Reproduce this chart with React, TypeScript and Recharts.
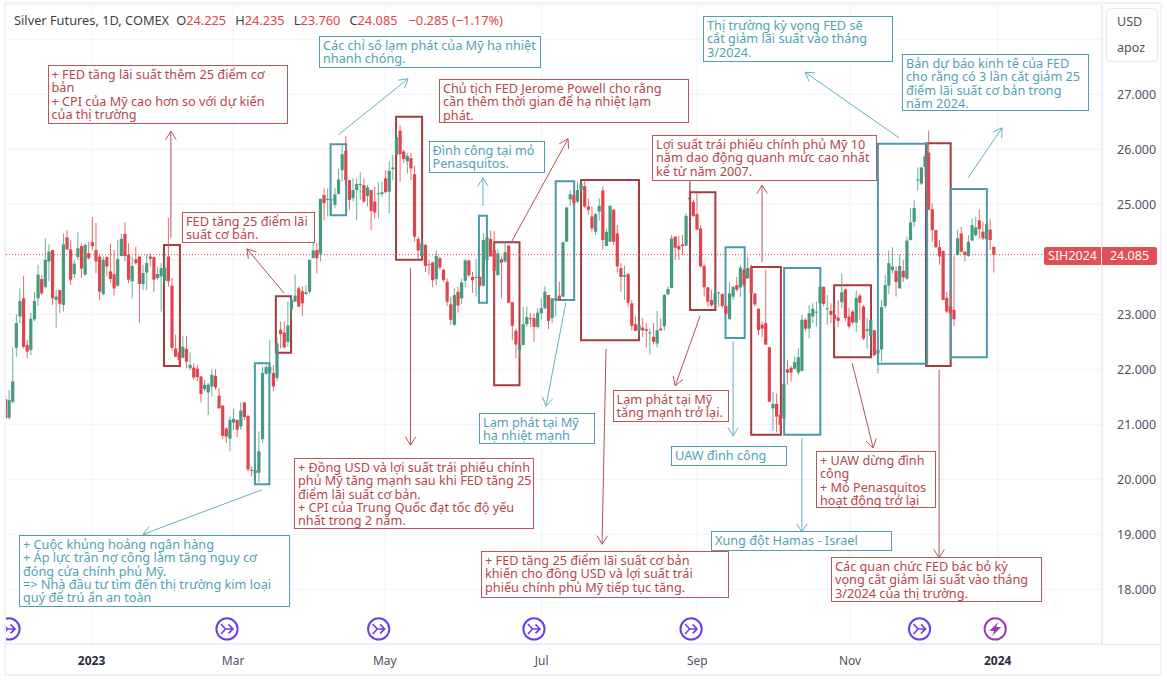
import React from 'react';
import { ComposedChart, Bar, XAxis, YAxis, CartesianGrid, ReferenceArea, ReferenceLine, ReferenceDot } from 'recharts';

// open, high, low, close per session
const ohlcEarly2023 = [
[21.46,21.46,20.91,21.11],[21.12,21.62,21.08,21.44],[21.41,22.40,21.38,21.78],[22.39,23.00,22.23,22.84],[22.96,23.47,22.84,23.24],[23.29,23.70,22.38,22.41],[22.44,22.53,22.20,22.32],[22.35,23.02,22.26,22.92],[22.91,23.41,22.87,23.24],[23.29,23.90,23.15,23.72],
[23.64,23.72,23.35,23.38],[23.50,24.38,23.47,23.99],[23.96,24.27,23.60,24.14],[24.17,24.17,23.17,23.29],[23.26,23.44,22.75,23.32],[23.44,23.44,23.02,23.19],[23.17,24.47,23.05,24.27],[24.40,24.53,24.17,24.18],[24.18,24.35,23.53,23.63],[23.73,23.99,23.66,23.92],
[24.04,24.49,23.99,24.20],[24.24,24.29,23.66,23.83],[23.72,24.29,23.70,24.26],[24.11,24.32,23.99,24.02],[24.31,24.77,24.17,24.24],[24.17,24.66,23.75,23.96],[24.05,24.08,23.26,23.41],[23.37,24.05,23.34,23.99],[24.04,24.05,23.69,23.87],[23.78,24.29,23.57,23.64],
[23.73,24.17,23.34,23.47],[23.52,24.35,23.50,24.00],[24.06,24.46,24.05,24.37],[24.46,24.67,23.96,24.06],[24.08,24.29,23.57,23.63],[23.60,24.05,23.29,23.88],[24.00,24.23,23.90,23.93],[24.05,24.05,22.85,23.55],[23.55,23.90,23.44,23.75],[23.76,24.08,23.44,23.93],
[24.05,24.11,23.87,24.01],[24.04,24.05,23.40,23.63],[23.66,23.87,23.63,23.73],[23.69,23.93,23.05,23.84],[23.61,24.08,23.50,23.85],[24.05,24.75,23.50,23.60],[23.52,23.66,22.34,22.39],[22.38,22.63,22.23,22.23],[22.31,22.41,22.06,22.17],[22.21,22.60,22.20,22.41],
[22.37,22.61,22.02,22.14],[22.02,22.31,21.99,22.08],[22.03,22.11,21.81,21.85],[22.01,22.08,21.78,21.86],[21.87,21.87,21.40,21.55],[21.64,21.81,21.60,21.72],[21.58,21.75,21.17,21.72],[21.69,22.00,21.51,21.90],[21.88,22.00,21.63,21.67],[21.52,21.66,21.29,21.29],
[21.34,21.35,20.73,20.79],[20.92,20.95,20.66,20.78],[20.74,21.14,20.51,21.08],[21.03,21.29,20.90,21.10],[21.08,21.08,20.77,20.90],[20.96,21.40,20.90,21.25],[21.40,21.40,21.08,21.13],[21.15,21.17,20.14,20.18],[20.17,20.23,20.05,20.16],[20.11,20.29,19.96,20.17],
];
const ohlcSpring2023 = [
[20.12,20.87,19.94,20.51],[20.73,22.05,20.66,21.93],[21.92,22.08,21.90,22.04],[21.93,22.53,21.90,22.05],[21.93,22.08,21.60,21.69],[21.84,22.57,21.78,22.47],[22.72,22.87,22.38,22.64],[22.67,22.87,22.38,22.40],[22.50,23.23,22.41,22.80],[23.09,23.35,22.90,23.26],
[23.23,23.72,23.23,23.34],[23.47,23.50,23.14,23.14],[23.42,23.51,22.96,23.20],[23.37,23.53,23.35,23.40],[23.41,23.99,23.38,23.99],[24.02,24.32,24.02,24.16],[24.17,24.29,23.74,24.02],[24.10,25.10,23.96,25.10],[25.17,25.29,24.71,25.02],[25.08,25.29,24.78,25.10],
[25.08,25.10,24.81,25.09],[24.99,25.29,24.93,25.18],[25.19,25.65,25.18,25.45],[25.62,26.07,25.41,25.91],[25.97,26.24,25.32,25.44],[25.44,25.44,24.90,25.08],[25.11,25.47,25.05,25.26],[25.26,25.47,24.71,25.37],[25.36,25.58,25.08,25.37],[25.35,25.47,25.02,25.05],
[25.15,25.35,24.96,25.31],[25.26,25.26,24.53,24.88],[25.05,25.32,24.74,24.85],[25.18,25.40,24.74,25.20],[25.19,25.41,25.14,25.22],[25.47,25.62,25.20,25.22],[25.23,25.78,24.84,25.61],[25.64,25.90,25.44,25.67],[25.90,26.35,25.90,26.22],[26.34,26.44,25.41,25.91],
[25.96,25.99,25.75,25.82],[25.78,25.93,25.56,25.88],[25.84,25.93,25.44,25.65],[25.55,25.70,24.32,24.41],[24.37,24.41,23.99,24.16],[24.06,24.40,24.04,24.29],[24.26,24.28,23.77,23.88],[23.91,23.99,23.71,23.90],[23.94,23.96,23.49,23.62],[23.64,24.16,23.53,24.06],
[24.02,24.05,23.81,23.85],[23.81,23.82,23.59,23.62],[23.59,23.65,23.15,23.23],[23.18,23.32,22.81,22.90],[22.81,23.47,22.79,23.35],[23.41,23.50,23.03,23.16],[23.29,23.65,23.19,23.58],[23.61,24.00,23.50,23.98],[23.98,23.99,23.67,23.71],[23.68,23.77,23.39,23.62],
[23.67,24.00,23.32,23.68],[23.68,23.68,23.50,23.52],[23.52,24.47,23.50,24.35],[23.99,24.41,23.87,24.40],[24.37,24.52,24.05,24.05],[24.17,24.52,23.26,23.79],[23.71,24.18,23.71,24.11],[24.00,24.05,23.29,23.94],[23.96,24.29,23.93,24.13],[24.25,24.25,23.20,23.21],
];
const ohlcSummer2023 = [
[23.22,23.22,22.53,22.79],[22.70,22.74,22.20,22.45],[22.35,22.45,22.23,22.44],[22.44,23.14,22.44,22.82],[22.82,23.14,22.77,22.95],[22.93,23.02,22.77,22.91],[22.93,23.02,22.50,22.77],[22.77,23.11,22.74,23.03],[23.02,23.29,22.90,23.11],[23.11,23.51,23.09,23.41],
[23.35,23.35,22.73,22.88],[22.93,23.29,22.84,23.29],[23.26,23.44,22.96,23.29],[23.34,23.59,23.26,23.26],[23.32,24.32,23.32,24.31],[24.32,24.96,24.32,24.94],[25.09,25.26,24.97,25.18],[25.17,25.26,24.96,25.02],[25.05,25.41,25.02,25.26],[25.27,25.45,25.20,25.38],
[25.33,25.45,24.93,24.96],[24.96,25.11,24.81,24.90],[24.78,24.96,24.50,24.56],[24.50,24.84,24.44,24.82],[24.87,25.11,24.71,24.97],[25.25,25.32,24.18,24.35],[24.24,24.56,24.24,24.50],[24.32,24.99,24.32,24.97],[24.90,24.91,24.26,24.32],[24.47,24.62,23.76,23.87],
[23.84,23.93,23.41,23.68],[23.68,23.88,23.26,23.71],[23.73,23.75,23.14,23.21],[23.20,23.26,22.71,22.79],[22.82,22.96,22.69,22.70],[22.71,23.06,22.59,22.81],[22.76,22.93,22.59,22.71],[22.73,22.84,22.40,22.70],[22.65,22.74,22.27,22.67],[22.59,22.84,22.45,22.50],
[22.47,23.06,22.40,22.71],[22.74,22.93,22.69,22.71],[22.78,23.37,22.71,23.35],[23.36,23.51,23.35,23.46],[23.48,24.44,23.47,24.38],[24.41,24.42,23.99,24.21],[24.24,24.42,23.99,24.18],[24.27,24.44,24.08,24.24],[24.25,24.84,24.23,24.79],[25.12,25.41,24.84,25.09],
[25.04,25.08,24.77,24.79],[24.82,25.20,24.53,24.54],[24.56,24.62,23.85,23.87],[23.88,23.91,23.32,23.49],[23.49,23.50,23.14,23.23],[23.26,23.44,23.14,23.16],[23.18,23.50,23.17,23.38],[23.39,23.41,23.14,23.40],[23.37,23.38,23.11,23.15],[23.15,23.17,22.99,23.01],
[22.91,23.58,22.91,23.38],[23.32,23.50,23.26,23.50],[23.53,23.68,23.41,23.45],[23.49,23.90,23.32,23.85],[23.81,23.84,23.49,23.53],[23.65,24.04,23.65,23.84],[23.84,23.90,23.38,23.38],
];
const ohlcAutumn2023 = [
[23.38,23.38,23.14,23.18],[23.10,23.11,22.62,22.71],[22.81,22.87,22.59,22.74],[22.84,23.81,22.44,22.45],[22.40,22.41,21.41,21.41],[21.29,21.59,20.88,21.37],[21.37,21.56,20.85,21.14],[21.17,21.20,20.87,20.99],[21.11,21.73,21.09,21.73],[22.00,22.17,21.72,21.94],
[22.03,22.06,21.78,21.94],[22.01,22.23,22.00,22.13],[21.94,22.38,21.90,22.22],[21.97,22.99,21.96,22.90],[22.90,22.93,22.69,22.74],[22.74,23.17,22.56,23.02],[22.96,23.20,22.84,23.10],[23.03,23.23,22.78,23.05],[23.20,23.50,23.08,23.50],[23.50,23.50,23.14,23.19],
[23.09,23.35,22.81,23.11],[23.06,23.20,22.84,22.99],[22.99,23.20,22.74,22.91],[22.94,23.26,22.78,22.88],[23.22,23.74,23.11,23.40],[23.45,23.47,22.87,22.93],[22.96,23.11,22.74,22.78],[23.05,23.08,22.81,22.85],[22.85,23.43,22.67,23.30],[23.34,23.37,22.90,23.21],
[23.14,23.17,22.53,22.56],[22.70,22.94,22.38,22.73],[22.61,22.90,22.35,22.90],[22.71,22.71,22.23,22.26],[22.29,22.35,21.93,22.35],[22.36,23.26,22.14,23.13],[23.15,23.71,23.11,23.53],[23.52,24.16,23.37,23.93],[23.80,24.22,23.74,23.87],[23.79,23.87,23.32,23.59],
[23.47,24.08,23.47,23.88],[23.79,23.99,23.59,23.67],[23.65,24.41,23.62,24.34],[24.35,24.93,24.34,24.67],[24.68,25.07,24.59,24.93],[25.44,25.67,25.25,25.45],[25.38,25.67,25.35,25.67],[25.68,25.93,25.50,25.87],[25.94,26.34,24.90,24.90],[24.91,25.02,24.32,24.53],
[24.53,24.53,24.20,24.22],[24.22,24.35,23.90,24.05],[24.15,24.16,23.26,23.26],[23.30,23.41,23.02,23.05],[23.14,23.44,23.00,23.02],[23.08,24.06,22.79,22.91],[24.08,24.53,24.07,24.38],[24.47,24.59,24.12,24.14],[24.14,24.14,23.96,24.08],[24.06,24.44,24.04,24.32],
[24.34,24.74,24.34,24.62],[24.44,24.77,24.41,24.58],[24.71,24.91,24.38,24.55],[24.50,24.68,24.35,24.38],[24.37,24.65,24.32,24.64],[24.54,24.74,24.17,24.35],[24.225,24.235,23.76,24.085],
];

const lastClose = 24.085;
const priceTicks = [18, 19, 20, 21, 22, 23, 24, 25, 26, 27, 28];
const hiddenPriceTicks = [24, 28];
const dateTicks = [23.7, 62.8, 104.7, 148, 191, 233.2, 274];
const dateLabels = ['2023', 'Mar', 'May', 'Jul', 'Sep', 'Nov', '2024'];
const yearLabels = ['2023', '2024'];

// chart annotations in [bar from, bar to, price low, price high]
const redZones = [
[43.7,48.1,22.06,24.26],[74.6,78.8,22.30,23.33],[107.8,115.0,23.99,26.59],[134.9,141.9,21.71,24.31],[158.9,174.9,22.53,25.44],[189.0,196.0,23.08,25.22],[205.9,214.1,20.81,23.86],[228.8,239.0,22.22,23.53],[254.2,261.0,22.06,26.11],
];
const tealZones = [
[68.8,72.8,19.91,22.11],[89.7,94.0,24.80,26.09],[130.7,132.9,23.21,24.79],[151.9,157.0,23.26,25.42],[198.8,204.1,22.57,24.22],[215.0,225.0,20.81,23.84],[240.9,254.5,22.10,26.10],[261.0,271.0,22.22,25.28],
];
// [bar from, price from, bar to, price to]
const redArrows = [
[45.6,24.39,45.6,26.33],[76.8,23.39,66.6,24.19],[111.8,23.84,111.8,20.62],[139.8,24.33,155.3,26.19],[165.8,22.37,164.7,18.82],[191.8,22.97,184.9,21.70],[208.9,23.95,208.9,25.35],[233.8,22.11,239.6,20.57],[257.8,21.99,257.8,18.57],
];
const tealArrows = [
[91.8,26.26,111.1,27.28],[131.8,24.97,131.8,25.48],[154.7,23.21,149.2,21.33],[200.9,22.51,200.9,20.79],[219.9,20.75,219.9,19.04],[246.7,26.21,220.8,27.40],[265.8,25.48,275.2,26.39],[70.8,19.81,37.9,19.0],
];
const redStubs = [[189.0,25.42,189.0,25.22]];
const eventBars = [0.9, 61.1, 103, 145.9, 189.3, 252.4];
const earningsBars = [273.3];
const eventPrice = 17.28;

const redNotes = [
['+ FED tăng lãi suất thêm 25 điểm cơ', 'bản', '+ CPI của Mỹ cao hơn so với dự kiến', 'của thị trường'],
['FED tăng 25 điểm lãi', 'suất cơ bản.'],
['Chủ tịch FED Jerome Powell cho rằng', 'cần thêm thời gian để hạ nhiệt lạm', 'phát.'],
['Lợi suất trái phiếu chính phủ Mỹ 10', 'năm dao động quanh mức cao nhất', 'kể từ năm 2007.'],
['+ Đồng USD và lợi suất trái phiếu chính', 'phủ Mỹ tăng mạnh sau khi FED tăng 25', 'điểm lãi suất cơ bản.', '+ CPI của Trung Quốc đạt tốc độ yếu', 'nhất trong 2 năm.'],
['Lạm phát tại Mỹ', 'tăng mạnh trở lại.'],
['+ UAW dừng đình', 'công', '+ Mỏ Penasquitos', 'hoạt động trở lại'],
['+ FED tăng 25 điểm lãi suất cơ bản', 'khiến cho đồng USD và lợi suất trái', 'phiếu chính phủ Mỹ tiếp tục tăng.'],
['Các quan chức FED bác bỏ kỳ', 'vọng cắt giảm lãi suất vào tháng', '3/2024 của thị trường.'],
];
const tealNotes = [
['Các chỉ số lạm phát của Mỹ hạ nhiệt', 'nhanh chóng.'],
['Đình công tại mỏ', 'Penasquitos.'],
['Thị trường kỳ vọng FED sẽ', 'cắt giảm lãi suất vào tháng', '3/2024.'],
['Bản dự báo kinh tế của FED', 'cho rằng có 3 lần cắt giảm 25', 'điểm lãi suất cơ bản trong', 'năm 2024.'],
['Lạm phát tại Mỹ', 'hạ nhiệt mạnh'],
['UAW đình công'],
['Xung đột Hamas - Israel'],
['+ Cuộc khủng hoảng ngân hàng', '+ Áp lực trần nợ công làm tăng nguy cơ', 'đóng cửa chính phủ Mỹ.', '=> Nhà đầu tư tìm đến thị trường kim loại', 'quý để trú ẩn an toàn'],
];
const headerTitle = 'Silver Futures, 1D, COMEX';
const headerQuotes = [['O', '24.225'], ['H', '24.235'], ['L', '23.760'], ['C', '24.085']];
const headerChange = '−0.285 (−1.17%)';
const symbol = 'SIH2024';

// layout of the note boxes: left, top, right, bottom
const redNoteBoxes = [[47.5,65,287.5,123.5],[182,212,314.5,243],[439,79,689,123],[652,135,877,181],[294,458,534,529],[612.5,390,729,422],[816,451,936,508],[481,551,729,598],[831,557,1042,602]];
const tealNoteBoxes = [[319,36,541,68],[428.5,141,544.5,173],[703,16,893,62],[902,54,1089,111],[479,413,595,444],[671,446,787,466],[711,531,892,551],[19,535,290,607]];

const FONT = '"Noto Sans", sans-serif';
const UP = '#459a7f';
const DOWN = '#e0454e';
const RED_LINE = '#a83a3f';
const TEAL_LINE = '#4a9aaa';
const RED_THIN = '#b0535a';
const TEAL_THIN = '#63b1c0';

const rows = [...ohlcEarly2023, ...ohlcSpring2023, ...ohlcSummer2023, ...ohlcAutumn2023].map(([open, high, low, close], i) => ({
  i, open, high, low, close, range: [low, high],
}));

function Candle(props: any) {
  const { x, y, width, height, payload } = props;
  if (x == null || payload == null) return null;
  const { open, high, low, close } = payload;
  const perUnit = height / (high - low || 1);
  const py = (v: number) => y + (high - v) * perUnit;
  const color = close >= open ? UP : DOWN;
  const cx = x + width / 2;
  const top = py(Math.max(open, close));
  const bottom = py(Math.min(open, close));
  return (
    <g>
      <line x1={cx} x2={cx} y1={y} y2={y + height} stroke={color} strokeWidth={1} strokeOpacity={0.8} />
      <rect x={cx - 1.6} y={top} width={3.2} height={Math.max(bottom - top, 1)} fill={color} />
    </g>
  );
}

function arrowShape(color: string, head: boolean) {
  return (p: any) => {
    const { x1, y1, x2, y2 } = p;
    const a = Math.atan2(y2 - y1, x2 - x1);
    const L = 10;
    const s = 0.55;
    return (
      <g>
        <line x1={x1} y1={y1} x2={x2} y2={y2} stroke={color} strokeWidth={1} />
        {head && (
          <path
            d={`M${x2 - L * Math.cos(a - s)} ${y2 - L * Math.sin(a - s)}L${x2} ${y2}L${x2 - L * Math.cos(a + s)} ${y2 - L * Math.sin(a + s)}`}
            fill="none"
            stroke={color}
            strokeWidth={1}
          />
        )}
      </g>
    );
  };
}

function EventIcon(props: any) {
  const { cx, cy } = props;
  return (
    <g transform={`translate(${cx},${cy})`} fill="none" stroke="#6a3fe6" strokeWidth={1.6}>
      <circle r={10.6} strokeWidth={2} fill="#fff" />
      <path d="M-6 -5L-1.5 0L-6 5M-1.5 0H6M1.5 -4.5L6 0L1.5 4.5" />
    </g>
  );
}

function EarningsIcon(props: any) {
  const { cx, cy } = props;
  return (
    <g transform={`translate(${cx},${cy})`}>
      <circle r={10.6} fill="#fff" stroke="#9c3fb5" strokeWidth={2} />
      <path d="M3 -7L-6 2H-1L-3 7L6 -2H1Z" fill="#9c3fb5" />
    </g>
  );
}

function DateTick(props: any) {
  const { x, y, payload } = props;
  const label = dateLabels[dateTicks.indexOf(payload.value)];
  const isYear = yearLabels.includes(label);
  return (
    <text
      x={x}
      y={y + 13}
      textAnchor="middle"
      fontFamily={FONT}
      fontSize={12}
      fontWeight={isYear ? 700 : 400}
      fill={isYear ? '#2a2e39' : '#50535e'}
    >
      {label}
    </text>
  );
}

function Note({ lines, box, color, border }: any) {
  const [l, t, r, b] = box;
  return (
    <div
      style={{
        position: 'absolute', left: l, top: t, width: r - l, height: b - t, boxSizing: 'border-box',
        border: `1px solid ${border}`, background: '#fff', color, padding: '2px 3px',
        font: `12.7px/13.33px ${FONT}`, whiteSpace: 'nowrap', overflow: 'hidden',
      }}
    >
      {lines.map((s: string, k: number) => <div key={k}>{s}</div>)}
    </div>
  );
}

export default function App() {
  return (
    <div style={{ position: 'absolute', left: 0, top: 0, width: 1167, height: 684, background: '#fff', overflow: 'hidden' }}>
      <ComposedChart width={1167} height={684} data={rows} margin={{ top: 5, right: 5, bottom: 10, left: 5 }}>
        <CartesianGrid stroke="#f0f3fa" />
        <XAxis
          dataKey="i"
          type="number"
          domain={[-0.22, 302.8]}
          allowDataOverflow
          ticks={dateTicks}
          interval={0}
          height={30}
          tick={DateTick}
          tickLine={false}
          axisLine={{ stroke: '#e0e3eb' }}
        />
        <YAxis
          orientation="right"
          type="number"
          domain={[17.006, 28.623]}
          allowDataOverflow
          ticks={priceTicks}
          interval={0}
          width={60}
          tickLine={false}
          tickMargin={9}
          axisLine={{ stroke: '#e0e3eb' }}
          tick={{ fill: '#50535e', fontSize: 12.5, fontFamily: FONT }}
          tickFormatter={(v: number) => (hiddenPriceTicks.includes(v) ? '' : v.toFixed(3))}
        />
        <ReferenceLine y={lastClose} stroke={DOWN} strokeDasharray="1 2" />
        <Bar dataKey="range" barSize={3} isAnimationActive={false} shape={Candle} />
        {redZones.map(([a, b, lo, hi], k) => (
          <ReferenceArea key={`rz${k}`} x1={a} x2={b} y1={lo} y2={hi} fill="none" stroke={RED_LINE} strokeWidth={2} strokeOpacity={1} />
        ))}
        {tealZones.map(([a, b, lo, hi], k) => (
          <ReferenceArea key={`tz${k}`} x1={a} x2={b} y1={lo} y2={hi} fill="none" stroke={TEAL_LINE} strokeWidth={2} strokeOpacity={1} />
        ))}
        {redArrows.map(([a, p, b, q], k) => (
          <ReferenceLine key={`ra${k}`} segment={[{ x: a, y: p }, { x: b, y: q }]} shape={arrowShape(RED_THIN, true)} />
        ))}
        {tealArrows.map(([a, p, b, q], k) => (
          <ReferenceLine key={`ta${k}`} segment={[{ x: a, y: p }, { x: b, y: q }]} shape={arrowShape(TEAL_THIN, true)} />
        ))}
        {redStubs.map(([a, p, b, q], k) => (
          <ReferenceLine key={`rs${k}`} segment={[{ x: a, y: p }, { x: b, y: q }]} shape={arrowShape(RED_THIN, false)} />
        ))}
        {eventBars.map((b, k) => (
          <ReferenceDot key={`ev${k}`} x={b} y={eventPrice} r={10} shape={EventIcon} />
        ))}
        {earningsBars.map((b, k) => (
          <ReferenceDot key={`er${k}`} x={b} y={eventPrice} r={10} shape={EarningsIcon} />
        ))}
      </ComposedChart>

      {redNotes.map((lines, k) => (
        <Note key={`rn${k}`} lines={lines} box={redNoteBoxes[k]} color="#b5474e" border="#b8565c" />
      ))}
      {tealNotes.map((lines, k) => (
        <Note key={`tn${k}`} lines={lines} box={tealNoteBoxes[k]} color="#4fa3b3" border="#4f9faf" />
      ))}

      <div style={{ position: 'absolute', left: 14, top: 12, font: `12.8px/17px ${FONT}`, color: '#3c3f4a', whiteSpace: 'nowrap' }}>
        {headerTitle}
        {headerQuotes.map(([k, v], n) => (
          <span key={k} style={{ marginLeft: n === 0 ? 7 : 9 }}>{k}<span style={{ color: '#e0454e' }}>{v}</span></span>
        ))}
        <span style={{ marginLeft: 11, color: '#e0454e' }}>{headerChange}</span>
      </div>

      <div style={{ position: 'absolute', left: 1106, top: 8, width: 52, height: 54, boxSizing: 'border-box', border: '1px solid #e8eaf0', borderRadius: 5, font: `12.5px/26px ${FONT}`, color: '#50535e', paddingLeft: 10, background: '#fff' }}>
        <div>USD</div><div>apoz</div>
      </div>

      <div style={{ position: 'absolute', left: 1044, top: 246.5, width: 57, height: 18, background: '#e04f55', color: '#fff', font: `12.5px/18px ${FONT}`, textAlign: 'center', borderRadius: '2px 0 0 2px' }}>{symbol}</div>
      <div style={{ position: 'absolute', left: 1102, top: 246.5, width: 55, height: 18, background: '#e04f55', color: '#fff', font: `12.5px/18px ${FONT}`, textAlign: 'center', borderRadius: '0 2px 2px 0' }}>{lastClose.toFixed(3)}</div>

      <div style={{ position: 'absolute', left: 1102, top: 644, width: 60, height: 1, background: '#e0e3eb' }} />
      <div style={{ position: 'absolute', left: 4, top: 2, width: 1158, height: 674, boxSizing: 'border-box', border: '2px solid #f0f3fa', boxShadow: '0 0 0 8px #fff', pointerEvents: 'none' }} />
    </div>
  );
}
